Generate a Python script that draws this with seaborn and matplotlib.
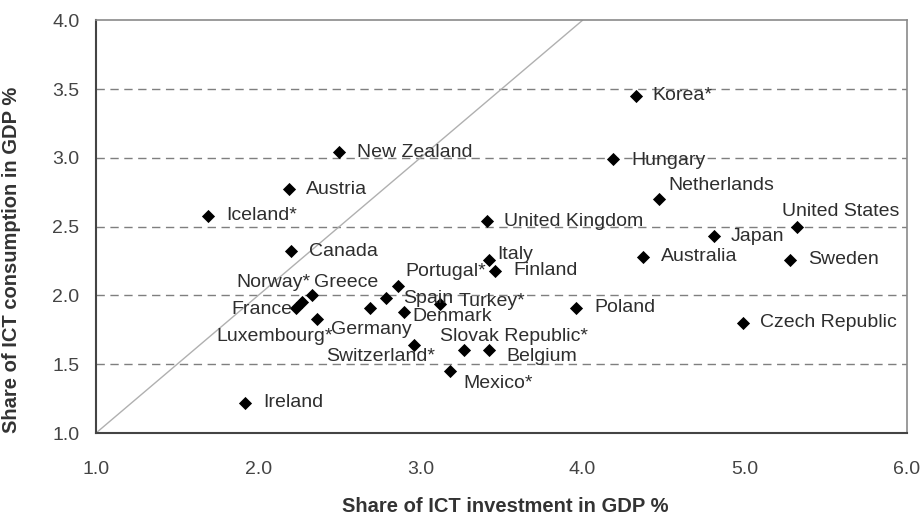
import seaborn as sns
import matplotlib.pyplot as plt
import pandas as pd

# ICT investment vs ICT consumption, share of GDP (%)
countries = ["Korea*", "Hungary", "Netherlands", "United Kingdom", "United States",
             "Japan", "Australia", "Sweden", "Italy", "Finland",
             "Poland", "Czech Republic", "Belgium", "Slovak Republic*", "Mexico*",
             "Turkey*", "Portugal*", "Spain", "Denmark", "Germany",
             "Switzerland*", "Luxembourg*", "Greece", "Norway*", "France",
             "Canada", "Iceland*", "Austria", "New Zealand", "Ireland"]
investment = [4.33, 4.19, 4.47, 3.41, 5.32,
              4.81, 4.37, 5.28, 3.42, 3.46,
              3.96, 4.99, 3.42, 3.27, 3.18,
              3.12, 2.86, 2.79, 2.90, 2.69,
              2.96, 2.36, 2.33, 2.27, 2.23,
              2.20, 1.69, 2.19, 2.50, 1.92]
consumption = [3.45, 2.99, 2.70, 2.54, 2.50,
               2.43, 2.28, 2.26, 2.26, 2.18,
               1.91, 1.80, 1.60, 1.60, 1.45,
               1.94, 2.07, 1.98, 1.88, 1.91,
               1.64, 1.83, 2.00, 1.95, 1.91,
               2.32, 2.58, 2.77, 3.04, 1.22]

# label placement: offset in pixels from the marker, horizontal alignment
label_offsets = {
    "Korea*": (16, 0, "left"), "Hungary": (18, -1, "left"),
    "Netherlands": (10, 14, "left"), "United Kingdom": (17, 0, "left"),
    "United States": (-15, 15, "left"), "Japan": (17, 0, "left"),
    "Australia": (18, 0, "left"), "Sweden": (18, 0, "left"),
    "Italy": (9, 5, "left"), "Finland": (18, 0, "left"),
    "Poland": (18, 0, "left"), "Czech Republic": (17, 0, "left"),
    "Belgium": (18, -6, "left"), "Slovak Republic*": (-24, 14, "left"),
    "Mexico*": (14, -12, "left"), "Turkey*": (19, 2, "left"),
    "Portugal*": (8, 14, "left"), "Spain": (17, 0, "left"),
    "Denmark": (8, -5, "left"), "Germany": (1, -22, "center"),
    "Switzerland*": (21, -12, "right"), "Luxembourg*": (16, -18, "right"),
    "Greece": (2, 13, "left"), "Norway*": (9, 20, "right"),
    "France": (-3, -2, "right"), "Canada": (18, 0, "left"),
    "Iceland*": (18, 0, "left"), "Austria": (17, 0, "left"),
    "New Zealand": (18, 0, "left"), "Ireland": (18, 0, "left"),
}

df = pd.DataFrame({"country": countries, "investment": investment,
                   "consumption": consumption})

sns.set_theme(style="white")
plt.rcParams['font.family'] = ['Liberation Sans', 'DejaVu Sans']

fig = plt.figure(figsize=(9.23, 5.18), dpi=100)
ax = fig.add_axes([0.104, 0.164, 0.8787, 0.797])

# dashed horizontal gridlines
for yv in [1.5, 2.0, 2.5, 3.0, 3.5]:
    ax.axhline(yv, color="#7f7f7f", lw=1, ls=(0, (6, 4)), zorder=0)

# 45 degree line
ax.axline((1.0, 1.0), slope=1, color="#b0b0b0", lw=1, zorder=1)

sns.scatterplot(data=df, x="investment", y="consumption", marker="D",
                color="black", s=45, edgecolor="black", linewidth=0,
                ax=ax, zorder=3)

for _, row in df.iterrows():
    dx, dy, ha = label_offsets[row.country]
    ax.annotate(row.country, (row.investment, row.consumption),
                xytext=(dx, dy), textcoords="offset pixels",
                ha=ha, va="center", fontsize=14, color="#2e2e2e")

ax.set_xlim(1.0, 6.0)
ax.set_ylim(1.0, 4.0)
ax.set_xticks([1.0, 2.0, 3.0, 4.0, 5.0, 6.0])
ax.set_yticks([1.0, 1.5, 2.0, 2.5, 3.0, 3.5, 4.0])
ax.xaxis.set_major_formatter(plt.FuncFormatter(lambda v, loc: "{:.1f}".format(v)))
ax.yaxis.set_major_formatter(plt.FuncFormatter(lambda v, loc: "{:.1f}".format(v)))
ax.tick_params(axis="x", direction="in", length=5, width=1.2, color="#444444",
               pad=20, labelsize=14, labelcolor="#444444")
ax.tick_params(axis="y", length=0, pad=12, labelsize=14, labelcolor="#444444")

for side in ["left", "bottom"]:
    ax.spines[side].set_color("#444444")
    ax.spines[side].set_linewidth(1.5)
for side in ["top", "right"]:
    ax.spines[side].set_color("#8a8a8a")
    ax.spines[side].set_linewidth(1.2)

ax.set_xlabel("Share of ICT investment in GDP %", fontsize=14.5, fontweight="bold",
              color="#333333")
ax.set_ylabel("Share of ICT consumption in GDP %", fontsize=14.5, fontweight="bold",
              color="#333333")
ax.xaxis.set_label_coords(0.505, -0.155)
ax.yaxis.set_label_coords(-0.093, 0.42)

fig.savefig("out.png", dpi=100)
